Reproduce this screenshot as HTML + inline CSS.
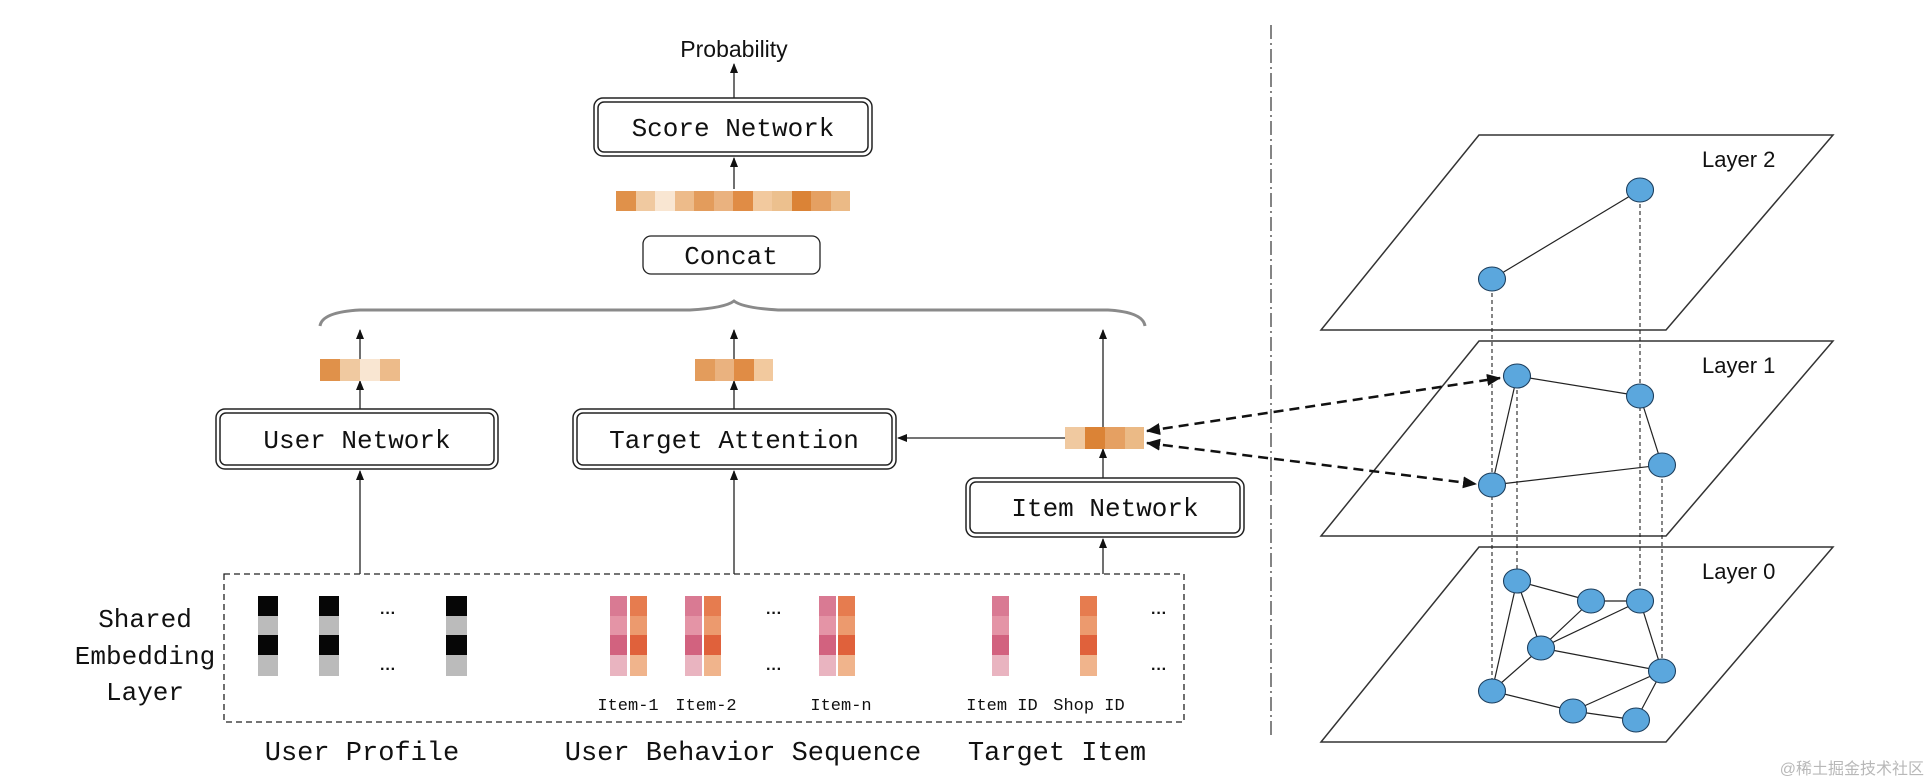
<!DOCTYPE html>
<html><head><meta charset="utf-8"><style>
html,body{margin:0;padding:0;background:#fff;}
svg{display:block;}
.m{font-family:"Liberation Mono",monospace;fill:#111;}
.s{font-family:"Liberation Sans",sans-serif;fill:#111;}
</style></head><body>
<svg width="1928" height="782" viewBox="0 0 1928 782" xmlns="http://www.w3.org/2000/svg">
<defs>
<marker id="ah" markerWidth="10" markerHeight="8" refX="9" refY="4" orient="auto" markerUnits="userSpaceOnUse"><path d="M0,0 L10,4 L0,8 Z" fill="#111"/></marker>
<marker id="ah2" markerWidth="14" markerHeight="12" refX="13" refY="6" orient="auto-start-reverse" markerUnits="userSpaceOnUse"><path d="M0,0 L14,6 L0,12 Z" fill="#111"/></marker>
</defs>
<g stroke="#222" stroke-width="1.3" fill="none">
<!-- arrows -->
<line x1="734" y1="98" x2="734" y2="64" marker-end="url(#ah)"/>
<line x1="734" y1="189" x2="734" y2="158" marker-end="url(#ah)"/>
<line x1="360" y1="359" x2="360" y2="330" marker-end="url(#ah)"/>
<line x1="360" y1="409" x2="360" y2="381" marker-end="url(#ah)"/>
<line x1="734" y1="359" x2="734" y2="330" marker-end="url(#ah)"/>
<line x1="734" y1="409" x2="734" y2="381" marker-end="url(#ah)"/>
<line x1="1103" y1="427" x2="1103" y2="330" marker-end="url(#ah)"/>
<line x1="1103" y1="478" x2="1103" y2="449" marker-end="url(#ah)"/>
<line x1="1065" y1="438" x2="898" y2="438" marker-end="url(#ah)"/>
<line x1="360" y1="574" x2="360" y2="471" marker-end="url(#ah)"/>
<line x1="734" y1="574" x2="734" y2="471" marker-end="url(#ah)"/>
<line x1="1103" y1="574" x2="1103" y2="539" marker-end="url(#ah)"/>
</g>
<!-- boxes -->
<g fill="#fff" stroke="#222">
<rect x="594" y="98" width="278" height="58" rx="9" stroke-width="1.5"/>
<rect x="598" y="102" width="270" height="50" rx="6" stroke-width="1.5"/>
<rect x="643" y="236" width="177" height="38" rx="8" stroke-width="1.3"/>
<rect x="216" y="409" width="282" height="60" rx="9" stroke-width="1.5"/>
<rect x="220" y="413" width="274" height="52" rx="6" stroke-width="1.5"/>
<rect x="573" y="409" width="323" height="60" rx="9" stroke-width="1.5"/>
<rect x="577" y="413" width="315" height="52" rx="6" stroke-width="1.5"/>
<rect x="966" y="478" width="278" height="59" rx="9" stroke-width="1.5"/>
<rect x="970" y="482" width="270" height="51" rx="6" stroke-width="1.5"/>
</g>
<text class="s" x="734" y="57" font-size="23" text-anchor="middle">Probability</text>
<text class="m" x="733" y="136" font-size="26" text-anchor="middle">Score Network</text>
<text class="m" x="731" y="264" font-size="26" text-anchor="middle">Concat</text>
<text class="m" x="357" y="448" font-size="26" text-anchor="middle">User Network</text>
<text class="m" x="734" y="448" font-size="26" text-anchor="middle">Target Attention</text>
<text class="m" x="1105" y="516" font-size="26" text-anchor="middle">Item Network</text>
<!-- concat vector -->
<g>
<rect x="616" y="191" width="20" height="20" fill="#e0914a"/><rect x="636" y="191" width="19" height="20" fill="#f0c9a0"/><rect x="655" y="191" width="20" height="20" fill="#f9e6d2"/><rect x="675" y="191" width="19" height="20" fill="#edbb8a"/><rect x="694" y="191" width="20" height="20" fill="#e39c5c"/><rect x="714" y="191" width="19" height="20" fill="#eab27f"/><rect x="733" y="191" width="20" height="20" fill="#e08c45"/><rect x="753" y="191" width="19" height="20" fill="#f2c99e"/><rect x="772" y="191" width="20" height="20" fill="#ecc08e"/><rect x="792" y="191" width="19" height="20" fill="#db8336"/><rect x="811" y="191" width="20" height="20" fill="#e5a062"/><rect x="831" y="191" width="19" height="20" fill="#ebba86"/>
</g>
<!-- brace -->
<path d="M320,326 Q322,312 360,310 L690,310 Q725,308 734,301 Q743,308 778,310 L1108,310 Q1143,312 1145,326" fill="none" stroke="#8a8a8a" stroke-width="3"/>
<!-- small vectors -->
<rect x="320" y="359" width="20" height="22" fill="#e0914a"/><rect x="340" y="359" width="20" height="22" fill="#f0c9a0"/><rect x="360" y="359" width="20" height="22" fill="#f9e6d2"/><rect x="380" y="359" width="20" height="22" fill="#edbb8a"/>
<rect x="695" y="359" width="20" height="22" fill="#e39c5c"/><rect x="715" y="359" width="19" height="22" fill="#eab27f"/><rect x="734" y="359" width="20" height="22" fill="#e08c45"/><rect x="754" y="359" width="19" height="22" fill="#f2c99e"/>
<rect x="1065" y="427" width="20" height="22" fill="#f0c9a0"/><rect x="1085" y="427" width="20" height="22" fill="#db8336"/><rect x="1105" y="427" width="20" height="22" fill="#e5a062"/><rect x="1125" y="427" width="19" height="22" fill="#ebba86"/>
<!-- dashed box -->
<rect x="224" y="574" width="960" height="148" fill="none" stroke="#222" stroke-width="1.3" stroke-dasharray="6,4"/>
<text class="m" font-size="26" text-anchor="middle"><tspan x="145" y="627">Shared</tspan><tspan x="145" y="664">Embedding</tspan><tspan x="145" y="700">Layer</tspan></text>
<!-- user profile bars -->
<g>
<rect x="258" y="596" width="20" height="20" fill="#060606"/><rect x="258" y="616" width="20" height="19" fill="#bbb"/><rect x="258" y="635" width="20" height="20" fill="#060606"/><rect x="258" y="655" width="20" height="21" fill="#bbb"/>
<rect x="319" y="596" width="20" height="20" fill="#060606"/><rect x="319" y="616" width="20" height="19" fill="#bbb"/><rect x="319" y="635" width="20" height="20" fill="#060606"/><rect x="319" y="655" width="20" height="21" fill="#bbb"/>
<rect x="446" y="596" width="21" height="20" fill="#060606"/><rect x="446" y="616" width="21" height="19" fill="#bbb"/><rect x="446" y="635" width="21" height="20" fill="#060606"/><rect x="446" y="655" width="21" height="21" fill="#bbb"/>
</g>
<g font-family="Liberation Sans,sans-serif" font-size="16" fill="#111" text-anchor="middle" font-weight="bold">
<text x="388" y="618">···</text><text x="388" y="674">···</text>
<text x="774" y="618">···</text><text x="774" y="674">···</text>
<text x="1159" y="618">···</text><text x="1159" y="674">···</text>
</g>
<!-- pink/orange columns -->
<g id="cols">
<g fill="#d97a93"><rect x="610" y="596" width="17" height="20"/><rect x="685" y="596" width="17" height="20"/><rect x="819" y="596" width="17" height="20"/><rect x="992" y="596" width="17" height="20"/></g>
<g fill="#e494a6"><rect x="610" y="616" width="17" height="19"/><rect x="685" y="616" width="17" height="19"/><rect x="819" y="616" width="17" height="19"/><rect x="992" y="616" width="17" height="19"/></g>
<g fill="#d2627f"><rect x="610" y="635" width="17" height="20"/><rect x="685" y="635" width="17" height="20"/><rect x="819" y="635" width="17" height="20"/><rect x="992" y="635" width="17" height="20"/></g>
<g fill="#e9b4c0"><rect x="610" y="655" width="17" height="21"/><rect x="685" y="655" width="17" height="21"/><rect x="819" y="655" width="17" height="21"/><rect x="992" y="655" width="17" height="21"/></g>
<g fill="#e67c4f"><rect x="630" y="596" width="17" height="20"/><rect x="704" y="596" width="17" height="20"/><rect x="838" y="596" width="17" height="20"/><rect x="1080" y="596" width="17" height="20"/></g>
<g fill="#ec9a6e"><rect x="630" y="616" width="17" height="19"/><rect x="704" y="616" width="17" height="19"/><rect x="838" y="616" width="17" height="19"/><rect x="1080" y="616" width="17" height="19"/></g>
<g fill="#e0613b"><rect x="630" y="635" width="17" height="20"/><rect x="704" y="635" width="17" height="20"/><rect x="838" y="635" width="17" height="20"/><rect x="1080" y="635" width="17" height="20"/></g>
<g fill="#f0b48c"><rect x="630" y="655" width="17" height="21"/><rect x="704" y="655" width="17" height="21"/><rect x="838" y="655" width="17" height="21"/><rect x="1080" y="655" width="17" height="21"/></g>
</g>
<g class="m" font-size="17" text-anchor="middle">
<text x="628" y="710">Item-1</text><text x="706" y="710">Item-2</text><text x="841" y="710">Item-n</text><text x="1002" y="710">Item ID</text><text x="1089" y="710">Shop ID</text>
</g>
<g class="m" font-size="27" text-anchor="middle">
<text x="362" y="760">User Profile</text><text x="743" y="760">User Behavior Sequence</text><text x="1057" y="760">Target Item</text>
</g>
<!-- divider -->
<line x1="1271" y1="25" x2="1271" y2="735" stroke="#333" stroke-width="1.2" stroke-dasharray="14,4,2,4"/>
<!-- planes -->
<g fill="#fff" stroke="#333" stroke-width="1.5">
<polygon points="1479,135 1833,135 1666,330 1321,330"/>
<polygon points="1479,341 1833,341 1666,536 1321,536"/>
<polygon points="1479,547 1833,547 1666,742 1321,742"/>
</g>
<g class="s" font-size="22"><text x="1702" y="167">Layer 2</text><text x="1702" y="373">Layer 1</text><text x="1702" y="579">Layer 0</text></g>
<!-- dashed verticals -->
<g stroke="#222" stroke-width="1.1" stroke-dasharray="4,3">
<line x1="1492" y1="279" x2="1492" y2="691"/><line x1="1640" y1="190" x2="1640" y2="601"/>
<line x1="1517" y1="376" x2="1517" y2="581"/><line x1="1662" y1="465" x2="1662" y2="671"/>
</g>
<!-- edges -->
<g stroke="#222" stroke-width="1.2">
<line x1="1640" y1="190" x2="1492" y2="279"/>
<line x1="1517" y1="376" x2="1640" y2="396"/><line x1="1517" y1="376" x2="1492" y2="485"/><line x1="1640" y1="396" x2="1662" y2="465"/><line x1="1492" y1="485" x2="1662" y2="465"/>
<line x1="1517" y1="581" x2="1591" y2="601"/><line x1="1591" y1="601" x2="1640" y2="601"/><line x1="1517" y1="581" x2="1541" y2="648"/><line x1="1517" y1="581" x2="1492" y2="691"/>
<line x1="1541" y1="648" x2="1591" y2="601"/><line x1="1541" y1="648" x2="1640" y2="601"/><line x1="1541" y1="648" x2="1662" y2="671"/><line x1="1541" y1="648" x2="1492" y2="691"/>
<line x1="1640" y1="601" x2="1662" y2="671"/><line x1="1492" y1="691" x2="1573" y2="711"/><line x1="1573" y1="711" x2="1662" y2="671"/><line x1="1573" y1="711" x2="1636" y2="720"/><line x1="1636" y1="720" x2="1662" y2="671"/>
</g>
<g fill="#5ba7dd" stroke="#1d3f5e" stroke-width="1.1">
<ellipse cx="1640" cy="190" rx="13.5" ry="12"/><ellipse cx="1492" cy="279" rx="13.5" ry="12"/>
<ellipse cx="1517" cy="376" rx="13.5" ry="12"/><ellipse cx="1640" cy="396" rx="13.5" ry="12"/><ellipse cx="1492" cy="485" rx="13.5" ry="12"/><ellipse cx="1662" cy="465" rx="13.5" ry="12"/>
<ellipse cx="1517" cy="581" rx="13.5" ry="12"/><ellipse cx="1591" cy="601" rx="13.5" ry="12"/><ellipse cx="1640" cy="601" rx="13.5" ry="12"/><ellipse cx="1541" cy="648" rx="13.5" ry="12"/><ellipse cx="1662" cy="671" rx="13.5" ry="12"/><ellipse cx="1492" cy="691" rx="13.5" ry="12"/><ellipse cx="1573" cy="711" rx="13.5" ry="12"/><ellipse cx="1636" cy="720" rx="13.5" ry="12"/>
</g>
<!-- dashed double arrows -->
<g stroke="#111" stroke-width="2.5" stroke-dasharray="10,6" fill="none">
<line x1="1147" y1="431" x2="1500" y2="378" marker-start="url(#ah2)" marker-end="url(#ah2)"/>
<line x1="1147" y1="443" x2="1476" y2="484" marker-start="url(#ah2)" marker-end="url(#ah2)"/>
</g>
<text x="1924" y="774" font-family="Liberation Sans,'Noto Sans CJK SC',sans-serif" font-size="16" fill="#b8b8b8" text-anchor="end">@稀土掘金技术社区</text>
</svg>
</body></html>
